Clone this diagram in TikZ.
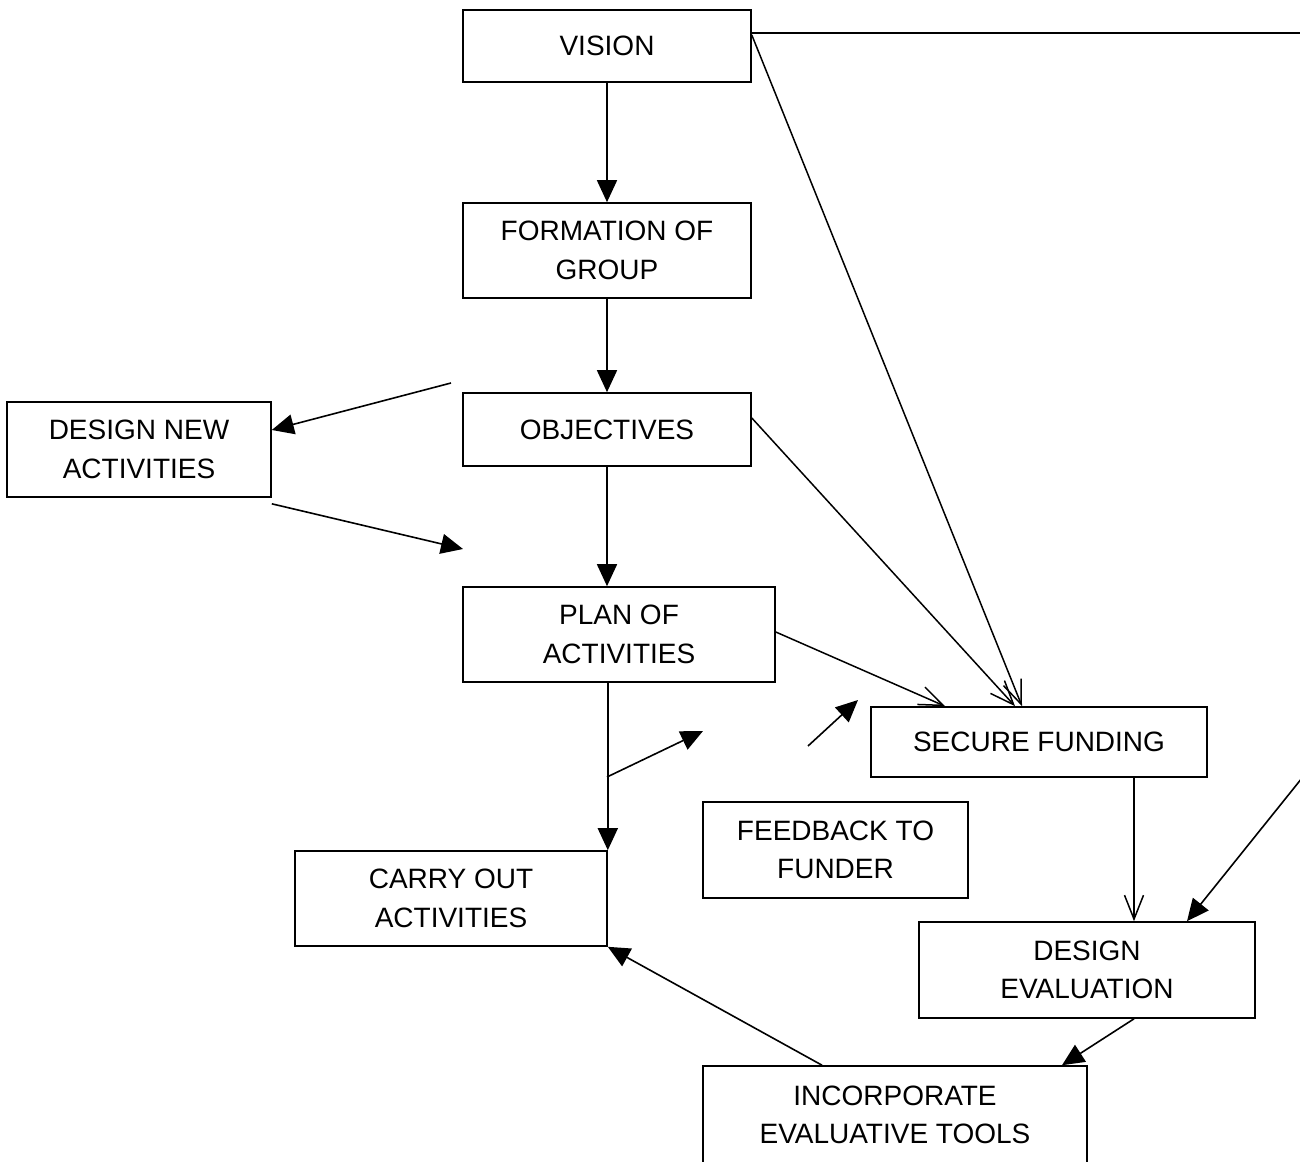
\documentclass[tikz,border=0pt]{standalone}
\usepackage{fontspec}
\setmainfont{Liberation Sans}
\usetikzlibrary{arrows.meta}
\begin{document}
\begin{tikzpicture}[x=1pt,y=-1pt,
  stepbox/.style={draw,line width=1.6pt,inner sep=0pt,align=center,
    font=\fontsize{28}{38.5}\selectfont},
  flow/.style={line width=1.6pt,-{Triangle[length=22pt,width=20pt]}},
  openflow/.style={line width=1.5pt,-{Straight Barb[length=24pt,width=19pt,line width=1.5pt]}}]
\useasboundingbox (0,0) rectangle (1300,1161);
\clip (0,0) rectangle (1300,1161);

% boxes
\node[stepbox,minimum width=288pt,minimum height=72pt] (vision) at (607,46) {VISION};
\node[stepbox,minimum width=288pt,minimum height=95pt] (group) at (607,250.5) {FORMATION OF\\GROUP};
\node[stepbox,minimum width=288pt,minimum height=73pt] (objectives) at (607,429.5) {OBJECTIVES};
\node[stepbox,minimum width=264pt,minimum height=95pt] (designnew) at (139,449.5) {DESIGN NEW\\ACTIVITIES};
\node[stepbox,minimum width=312pt,minimum height=95pt] (plan) at (619,634.5) {PLAN OF\\ACTIVITIES};
\node[stepbox,minimum width=336pt,minimum height=70pt] (funding) at (1039,742) {SECURE FUNDING};
\node[stepbox,minimum width=265pt,minimum height=96pt] (feedback) at (835.5,850) {FEEDBACK TO\\FUNDER};
\node[stepbox,minimum width=312pt,minimum height=95pt] (carry) at (451,898.5) {CARRY OUT\\ACTIVITIES};
\node[stepbox,minimum width=336pt,minimum height=96pt] (designeval) at (1087,970) {DESIGN\\EVALUATION};
\node[stepbox,minimum width=384pt,minimum height=98pt] (tools) at (895,1115) {INCORPORATE\\EVALUATIVE TOOLS};

% free ends
\coordinate (edgeTop) at (1302,33);
\coordinate (edgeRight) at (1302,778);
\coordinate (objLeft) at (451,383);
\coordinate (planLeft) at (463,549);
\coordinate (branch) at (607,777);
\coordinate (branchTip) at (703,731);
\coordinate (fbStart) at (808,746);
\coordinate (fbTip) at (858,700);

% main vertical chain
\draw[flow] (vision.south) -- (group.north);
\draw[flow] (group.south) -- (objectives.north);
\draw[flow] (objectives.south) -- (objectives.south |- plan.north);
\draw[flow] (plan.south -| carry.north east) -- (carry.north east);
\draw[flow] (branch) -- (branchTip);
\draw[flow] (fbStart) -- (fbTip);

% design new activities loop
\draw[flow] (objLeft) -- ([yshift=19.5pt]designnew.east);
\draw[flow] ([yshift=-6pt]designnew.south east) -- (planLeft);

% links into funding
\draw[line width=1.6pt] ([yshift=13pt]vision.east) -- (edgeTop);
\draw[openflow] ([yshift=11pt]vision.east) -- ([xshift=-17pt]funding.north);
\draw[openflow] ([yshift=11.5pt]objectives.east) -- ([xshift=-24pt]funding.north);
\draw[openflow] ([yshift=2.5pt]plan.east) -- ([xshift=-94pt]funding.north);
\draw[openflow] ([xshift=95pt]funding.south) -- ([xshift=47pt]designeval.north);

% evaluation chain
\draw[flow] (edgeRight) -- ([xshift=100pt]designeval.north);
\draw[flow] ([xshift=47pt]designeval.south) -- ([xshift=167pt]tools.north);
\draw[flow] ([xshift=-73pt]tools.north) -- (carry.south east);
\end{tikzpicture}
\end{document}
